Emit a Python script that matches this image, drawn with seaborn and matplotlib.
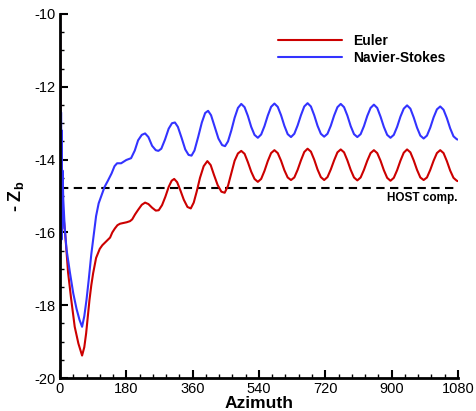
import matplotlib
matplotlib.use("Agg")
import matplotlib.pyplot as plt
import seaborn as sns
import pandas as pd
from matplotlib.ticker import MultipleLocator

# ---------------- data ----------------
euler_az = [0, 2, 4, 9, 14, 22, 30, 40, 50, 60, 66, 71, 76, 80, 85, 90, 98, 108, 115, 122,
            130, 136, 142, 149, 156, 163, 172, 181, 190, 196, 204, 212, 222, 231, 240, 250,
            260, 268, 277, 286, 295, 303, 310, 318, 327, 336, 346, 355, 363, 371, 380, 390,
            400, 409, 418, 428, 438, 447, 456, 465, 474, 483, 492, 501, 510, 519, 528, 537,
            546, 555, 564, 573, 582, 591, 600, 609, 618, 627, 636, 645, 654, 663, 672, 681,
            690, 699, 708, 717, 726, 735, 744, 753, 762, 771, 780, 789, 798, 807, 816, 825,
            834, 843, 852, 861, 870, 879, 888, 897, 906, 915, 924, 933, 942, 951, 960, 969,
            978, 987, 996, 1005, 1014, 1023, 1032, 1041, 1050, 1059, 1068, 1077, 1080]
euler_z = [-9.8, -13.0, -14.74, -15.5, -16.02, -17.1, -17.8, -18.59, -19.05, -19.38, -19.15,
           -18.77, -18.25, -17.86, -17.45, -17.12, -16.7, -16.45, -16.35, -16.28,
           -16.2, -16.14, -16.0, -15.89, -15.8, -15.76, -15.74, -15.72, -15.69, -15.64,
           -15.5, -15.38, -15.24, -15.18, -15.22, -15.32,
           -15.40, -15.39, -15.25, -15.02, -14.75, -14.58, -14.53, -14.62, -14.85, -15.1,
           -15.3, -15.34, -15.18, -14.88, -14.5, -14.18,
           -14.04, -14.15, -14.42, -14.7, -14.88, -14.91, -14.72, -14.38, -14.03, -13.83,
           -13.76, -13.84, -14.07, -14.33, -14.53, -14.61,
           -14.53, -14.31, -14.04, -13.82, -13.74, -13.82, -14.03, -14.29, -14.49, -14.56,
           -14.49, -14.28, -14.02, -13.79, -13.70, -13.78,
           -14.00, -14.27, -14.48, -14.56, -14.48, -14.27, -14.02, -13.80, -13.72, -13.80,
           -14.02, -14.28, -14.49, -14.57, -14.49, -14.28,
           -14.03, -13.82, -13.74, -13.82, -14.03, -14.29, -14.50, -14.58, -14.50, -14.29,
           -14.03, -13.81, -13.72, -13.80, -14.02, -14.28,
           -14.49, -14.56, -14.49, -14.28, -14.03, -13.82, -13.74, -13.82, -14.04, -14.30,
           -14.50, -14.58, -14.59]

ns_az = [0, 1, 2, 3, 4, 5, 6, 7, 9, 13, 18, 27, 36, 45, 53, 60, 66, 72, 78, 85, 90, 98,
         105, 112, 121, 130, 140, 148, 155, 166, 180, 193, 203, 212, 222, 231, 240, 250,
         260, 267, 275, 285, 295, 304, 312, 320, 330, 340, 349, 357, 365, 375, 385, 394,
         402, 410, 420, 430, 440, 448, 456, 465, 474, 483, 492, 501, 510, 519, 528, 537,
         546, 555, 564, 573, 582, 591, 600, 609, 618, 627, 636, 645, 654, 663, 672, 681,
         690, 699, 708, 717, 726, 735, 744, 753, 762, 771, 780, 789, 798, 807, 816, 825,
         834, 843, 852, 861, 870, 879, 888, 897, 906, 915, 924, 933, 942, 951, 960, 969,
         978, 987, 996, 1005, 1014, 1023, 1032, 1041, 1050, 1059, 1068, 1077, 1080]
ns_z = [-9.8, -12.6, -16.3, -12.7, -16.2, -13.2, -15.9, -14.3, -15.1, -15.9, -16.48, -17.1,
        -17.67, -18.1, -18.4, -18.59, -18.3, -17.85, -17.3, -16.6, -16.2, -15.55,
        -15.2, -15.0, -14.75, -14.58, -14.38, -14.18, -14.1, -14.1, -14.01, -13.96,
        -13.75, -13.47, -13.32, -13.28, -13.38, -13.62,
        -13.74, -13.76, -13.7, -13.45, -13.15, -13.0, -12.98, -13.1, -13.4, -13.72,
        -13.87, -13.89, -13.75, -13.38, -12.98, -12.72,
        -12.66, -12.78, -13.1, -13.42, -13.6, -13.63, -13.5, -13.2, -12.85, -12.58,
        -12.47, -12.56, -12.8, -13.1, -13.32, -13.40,
        -13.31, -13.08, -12.79, -12.55, -12.46, -12.55, -12.78, -13.07, -13.30, -13.38,
        -13.29, -13.06, -12.78, -12.54, -12.45, -12.54,
        -12.78, -13.07, -13.29, -13.37, -13.29, -13.07, -12.79, -12.56, -12.47, -12.56,
        -12.79, -13.08, -13.30, -13.38, -13.30, -13.08,
        -12.80, -12.58, -12.49, -12.58, -12.82, -13.10, -13.32, -13.40, -13.32, -13.10,
        -12.82, -12.60, -12.51, -12.60, -12.84, -13.12,
        -13.34, -13.42, -13.34, -13.12, -12.84, -12.62, -12.54, -12.63, -12.86, -13.14,
        -13.36, -13.44, -13.45]

host_level = -14.77
series_names = ["Euler", "Navier-Stokes"]
x_ticks = [0, 180, 360, 540, 720, 900, 1080]
y_ticks = [-20, -18, -16, -14, -12, -10]

# ---------------- styling ----------------
sns.set_style("ticks")
plt.rcParams["font.family"] = ["Liberation Sans", "DejaVu Sans"]
plt.rcParams["mathtext.fontset"] = "custom"
plt.rcParams["mathtext.rm"] = "Liberation Sans"
plt.rcParams["mathtext.bf"] = "Liberation Sans:bold"
plt.rcParams["axes.unicode_minus"] = False
plt.rcParams["text.color"] = "black"
plt.rcParams["axes.labelcolor"] = "black"
plt.rcParams["xtick.color"] = "black"
plt.rcParams["ytick.color"] = "black"

df = pd.concat([
    pd.DataFrame({"Azimuth": euler_az, "Zb": euler_z, "Model": series_names[0]}),
    pd.DataFrame({"Azimuth": ns_az, "Zb": ns_z, "Model": series_names[1]}),
], ignore_index=True)

fig = plt.figure(figsize=(4.76, 4.11), dpi=100)
ax = fig.add_axes([0.126, 0.080, 0.836, 0.886])

palette = {"Euler": "#cc0000", "Navier-Stokes": "#3333ff"}
sns.lineplot(data=df, x="Azimuth", y="Zb", hue="Model", palette=palette,
             sort=False, estimator=None, linewidth=1.5, ax=ax, legend=True)

ax.axhline(host_level, color="black", linewidth=1.5, dashes=(4, 2.6), zorder=1)
ax.text(1078, host_level - 0.12, "HOST comp.", ha="right", va="top",
        fontsize=8.5, fontweight="bold")

ax.set_xlim(0, 1080)
ax.set_ylim(-20, -10)
ax.set_xticks(x_ticks)
ax.set_yticks(y_ticks)
ax.xaxis.set_minor_locator(MultipleLocator(36))
ax.yaxis.set_minor_locator(MultipleLocator(0.5))
ax.tick_params(which="major", direction="in", length=6, width=1.5, labelsize=10.5,
               pad=3, color="black", labelcolor="black")
ax.tick_params(which="minor", direction="in", length=3, width=1.0, color="black")
for s in ["top", "right"]:
    ax.spines[s].set_visible(False)
for s in ["left", "bottom"]:
    ax.spines[s].set_linewidth(2)
    ax.spines[s].set_color("black")

ax.set_xlabel("Azimuth", fontsize=12.5, fontweight="bold", labelpad=0, color="black")
ax.set_ylabel(r"- $\mathbf{Z}_\mathbf{b}$", fontsize=13, fontweight="bold", labelpad=6,
              color="black")

leg = ax.legend(loc="upper right", bbox_to_anchor=(1.0, 0.98), frameon=False,
                handlelength=4.6, fontsize=10, labelspacing=0.2, handletextpad=0.8)
for t in leg.get_texts():
    t.set_fontweight("bold")
    t.set_color("black")
for h in leg.get_lines():
    h.set_linewidth(1.5)

fig.savefig("out.png", dpi=100)
